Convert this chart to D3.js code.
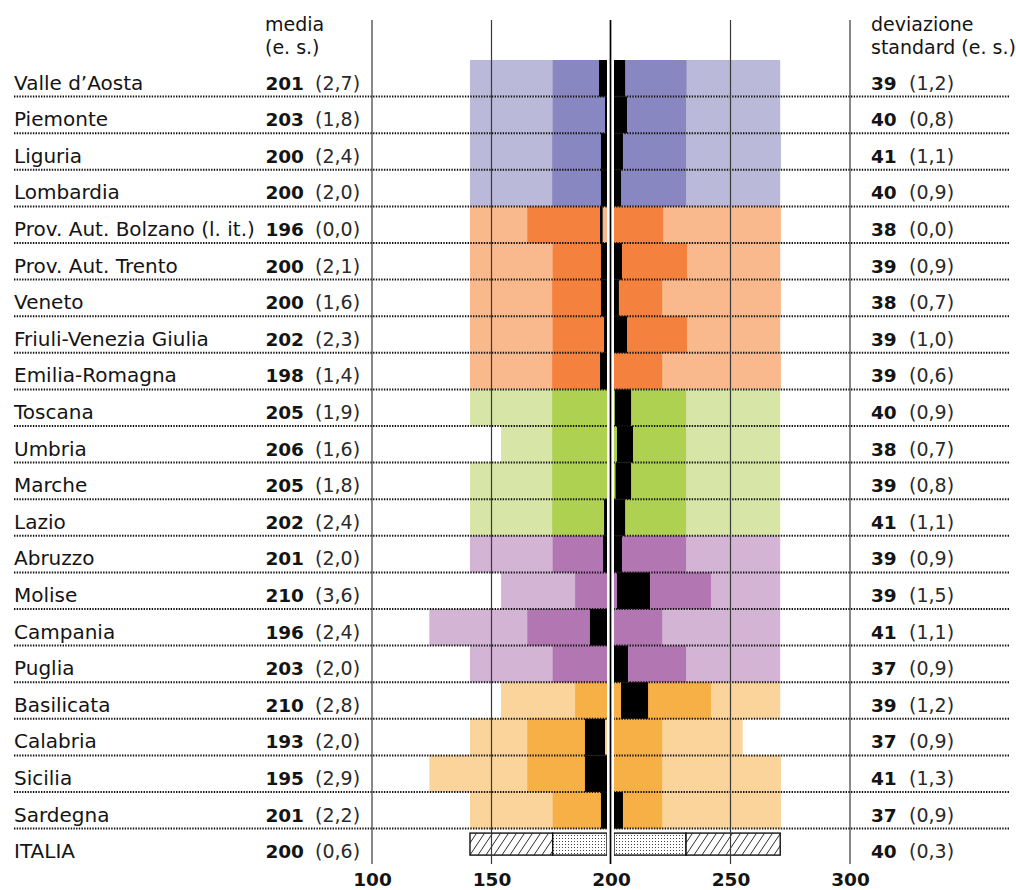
<!DOCTYPE html>
<html>
<head>
<meta charset="utf-8">
<script src="https://cdn.jsdelivr.net/npm/d3@7"></script>
<style>
  html, body { margin: 0; padding: 0; background: #fff; }
  svg { display: block; }
  text { font-family: "DejaVu Sans", sans-serif; fill: #141414; }
</style>
</head>
<body>
<svg id="chart" width="1016" height="890"></svg>
<script>
// ---------- data ----------
const regions = ["Valle d\u2019Aosta","Piemonte","Liguria","Lombardia","Prov. Aut. Bolzano (l. it.)",
  "Prov. Aut. Trento","Veneto","Friuli-Venezia Giulia","Emilia-Romagna","Toscana","Umbria","Marche",
  "Lazio","Abruzzo","Molise","Campania","Puglia","Basilicata","Calabria","Sicilia","Sardegna","ITALIA"];
const groups = ["NO","NO","NO","NO","NE","NE","NE","NE","NE","C","C","C","C",
  "S","S","S","S","I","I","I","I","IT"];
const means   = [201,203,200,200,196,200,200,202,198,205,206,205,202,201,210,196,203,210,193,195,201,200];
const meanSE  = [2.7,1.8,2.4,2.0,0.0,2.1,1.6,2.3,1.4,1.9,1.6,1.8,2.4,2.0,3.6,2.4,2.0,2.8,2.0,2.9,2.2,0.6];
const sds     = [39,40,41,40,38,39,38,39,39,40,38,39,41,39,39,41,37,39,37,41,37,40];
const sdSE    = [1.2,0.8,1.1,0.9,0.0,0.9,0.7,1.0,0.6,0.9,0.7,0.8,1.1,0.9,1.5,1.1,0.9,1.2,0.9,1.3,0.9,0.3];
// percentiles
const p5  = [141,141,141,141,141,141,141,141,141,141,154,141,141,141,154,124,141,154,141,124,141,141];
const p25 = [175.6,175.6,175.4,175.4,165,175.6,175.4,175.6,175.4,175.4,175.4,175.4,175.4,175.6,185,165,175.6,185,165,165,175.6,175.6];
const p75 = [231.6,231.4,231.4,231.4,221.8,231.8,221.4,231.8,221.4,231.4,231.4,231.4,231.4,231.4,241.8,221.4,231.4,241.8,221.4,221.4,221.4,231.4];
const p95 = [270.8,270.8,271.1,270.8,271.1,270.8,271.1,270.8,271.1,270.8,270.8,270.8,270.8,270.8,270.8,270.8,270.8,270.8,255.1,271.1,271.1,270.8];
// confidence interval of the mean (black)
const ciLo = [195.0,197.5,195.8,195.8,195.4,195.8,195.8,197.1,195.4,201.6,202.5,201.9,197.1,196.7,202.5,191.2,199.2,204.2,189.1,189.1,195.8,198.8];
const ciHi = [205.9,206.7,205.0,204.2,196.5,204.6,203.3,206.7,200.8,208.4,209.2,208.4,205.9,204.6,216.3,200.8,207.1,215.5,197.5,200.9,205.0,201.2];
const xTicks = [100,150,200,250,300];

const colors = {
  NO: {light:"#bab9d9", dark:"#8987c1"},
  NE: {light:"#f9b98d", dark:"#f4813d"},
  C:  {light:"#d7e6a7", dark:"#afd151"},
  S:  {light:"#d3b4d4", dark:"#b276b2"},
  I:  {light:"#fbd49b", dark:"#f7b045"}
};

const it = d3.formatLocale({decimal: ",", thousands: ".", grouping: [3], currency: ["\u20ac", ""]});
const f1 = it.format(".1f");

// ---------- layout ----------
const svg = d3.select("#chart");
const x = d3.scaleLinear().domain([100, 300]).range([372, 850]);
const y = d3.scaleBand().domain(regions).range([60, 60 + regions.length * 36.6]).paddingInner(0);
const bw = y.bandwidth();
const rows = regions.map((r, i) => ({r, i, g: groups[i]}));
const regRows = rows.filter(d => d.g !== "IT");
const itRow = rows.find(d => d.g === "IT");
const gapL = x(200) - 4, gapR = x(200) + 3;

// patterns
const defs = svg.append("defs");
const hatch = defs.append("pattern").attr("id", "hatch").attr("patternUnits", "userSpaceOnUse")
  .attr("width", 8).attr("height", 12);
hatch.append("rect").attr("width", 8).attr("height", 12).attr("fill", "#fff");
hatch.append("path").attr("d", "M0,12 L8,0 M-2,3 L2,-3 M6,15 L10,9").attr("stroke", "#111").attr("stroke-width", 0.9);
const dots = defs.append("pattern").attr("id", "dots").attr("patternUnits", "userSpaceOnUse")
  .attr("width", 3).attr("height", 3);
dots.append("rect").attr("width", 3).attr("height", 3).attr("fill", "#fff");
dots.append("rect").attr("x", 1).attr("y", 1).attr("width", 1).attr("height", 1).attr("fill", "#444");

// bars
const bars = svg.append("g");
bars.selectAll("rect.light").data(regRows).join("rect").attr("class", "light")
  .attr("x", d => x(p5[d.i])).attr("width", d => x(p95[d.i]) - x(p5[d.i]))
  .attr("y", d => y(d.r)).attr("height", bw).attr("fill", d => colors[d.g].light);
bars.selectAll("rect.darkL").data(regRows).join("rect").attr("class", "darkL")
  .attr("x", d => x(p25[d.i])).attr("width", d => x(Math.min(means[d.i], 200)) - x(p25[d.i]))
  .attr("y", d => y(d.r)).attr("height", bw).attr("fill", d => colors[d.g].dark);
bars.selectAll("rect.darkR").data(regRows).join("rect").attr("class", "darkR")
  .attr("x", x(200)).attr("width", d => x(p75[d.i]) - x(200))
  .attr("y", d => y(d.r)).attr("height", bw).attr("fill", d => colors[d.g].dark);
bars.selectAll("rect.ci").data(regRows).join("rect").attr("class", "ci")
  .attr("x", d => x(ciLo[d.i])).attr("width", d => Math.max(2.6, x(ciHi[d.i]) - x(ciLo[d.i])))
  .attr("y", d => y(d.r)).attr("height", bw).attr("fill", "#000");

// row separators (dotted)
svg.append("g").selectAll("line").data(rows.slice(0, -1)).join("line")
  .attr("x1", 14).attr("x2", 1010)
  .attr("y1", d => y(d.r) + bw).attr("y2", d => y(d.r) + bw)
  .attr("stroke", "#111").attr("stroke-width", 2).attr("stroke-dasharray", "1.4 1.3");

// ITALIA boxes
const iy = y(itRow.r) + 4.5, ih = 22;
const ib = svg.append("g").attr("stroke", "#111").attr("stroke-width", 1.4);
const i = itRow.i;
ib.append("rect").attr("x", x(p5[i])).attr("width", x(p25[i]) - x(p5[i])).attr("y", iy).attr("height", ih).attr("fill", "url(#hatch)");
ib.append("rect").attr("x", x(p25[i])).attr("width", gapL - x(p25[i])).attr("y", iy).attr("height", ih).attr("fill", "url(#dots)");
ib.append("rect").attr("x", gapR).attr("width", x(p75[i]) - gapR).attr("y", iy).attr("height", ih).attr("fill", "url(#dots)");
ib.append("rect").attr("x", x(p75[i])).attr("width", x(p95[i]) - x(p75[i])).attr("y", iy).attr("height", ih).attr("fill", "url(#hatch)");

// central gap
svg.append("rect").attr("x", gapL).attr("width", gapR - gapL).attr("y", 60).attr("height", y.range()[1] - 60 + 1).attr("fill", "#fff");

// gridlines
svg.append("g").selectAll("line").data(xTicks).join("line")
  .attr("x1", d => x(d) - (d === 200 ? 0.5 : 0)).attr("x2", d => x(d) - (d === 200 ? 0.5 : 0))
  .attr("y1", 20).attr("y2", 864)
  .attr("stroke", d => d === 200 ? "#000" : "#3a3a3a")
  .attr("stroke-width", d => d === 200 ? 1.7 : 1.2);

// bottom axis labels
const axis = svg.append("g").attr("transform", "translate(0,863)")
  .call(d3.axisBottom(x).tickValues(xTicks).tickSize(0).tickPadding(10).tickFormat(d3.format("d")));
axis.select(".domain").remove();
axis.selectAll("text").attr("font-family", "DejaVu Sans").attr("font-size", 18.5)
  .attr("font-weight", "bold").attr("fill", "#141414");

// left text
const base = d => y(d.r) + bw - 7;
svg.append("g").selectAll("text").data(rows).join("text")
  .attr("x", 14).attr("y", base).attr("font-size", 20).text(d => d.r);
svg.append("g").selectAll("text").data(rows).join("text")
  .attr("x", 304).attr("y", base).attr("text-anchor", "end").attr("font-size", 18.5).attr("font-weight", "bold")
  .text(d => means[d.i]);
svg.append("g").selectAll("text").data(rows).join("text")
  .attr("x", 315).attr("y", base).attr("font-size", 19).style("fill", "#2a2a2a")
  .text(d => "(" + f1(meanSE[d.i]) + ")");
// right text
svg.append("g").selectAll("text").data(rows).join("text")
  .attr("x", 871).attr("y", base).attr("font-size", 18.5).attr("font-weight", "bold")
  .text(d => sds[d.i]);
svg.append("g").selectAll("text").data(rows).join("text")
  .attr("x", 909).attr("y", base).attr("font-size", 19).style("fill", "#2a2a2a")
  .text(d => "(" + f1(sdSE[d.i]) + ")");

// headers
const hdr = svg.append("g").attr("font-size", 19);
hdr.append("text").attr("x", 265).attr("y", 31).text("media");
hdr.append("text").attr("x", 265).attr("y", 54).text("(e. s.)");
hdr.append("text").attr("x", 871).attr("y", 31).text("deviazione");
hdr.append("text").attr("x", 871).attr("y", 54).text("standard (e. s.)");
</script>
</body>
</html>
